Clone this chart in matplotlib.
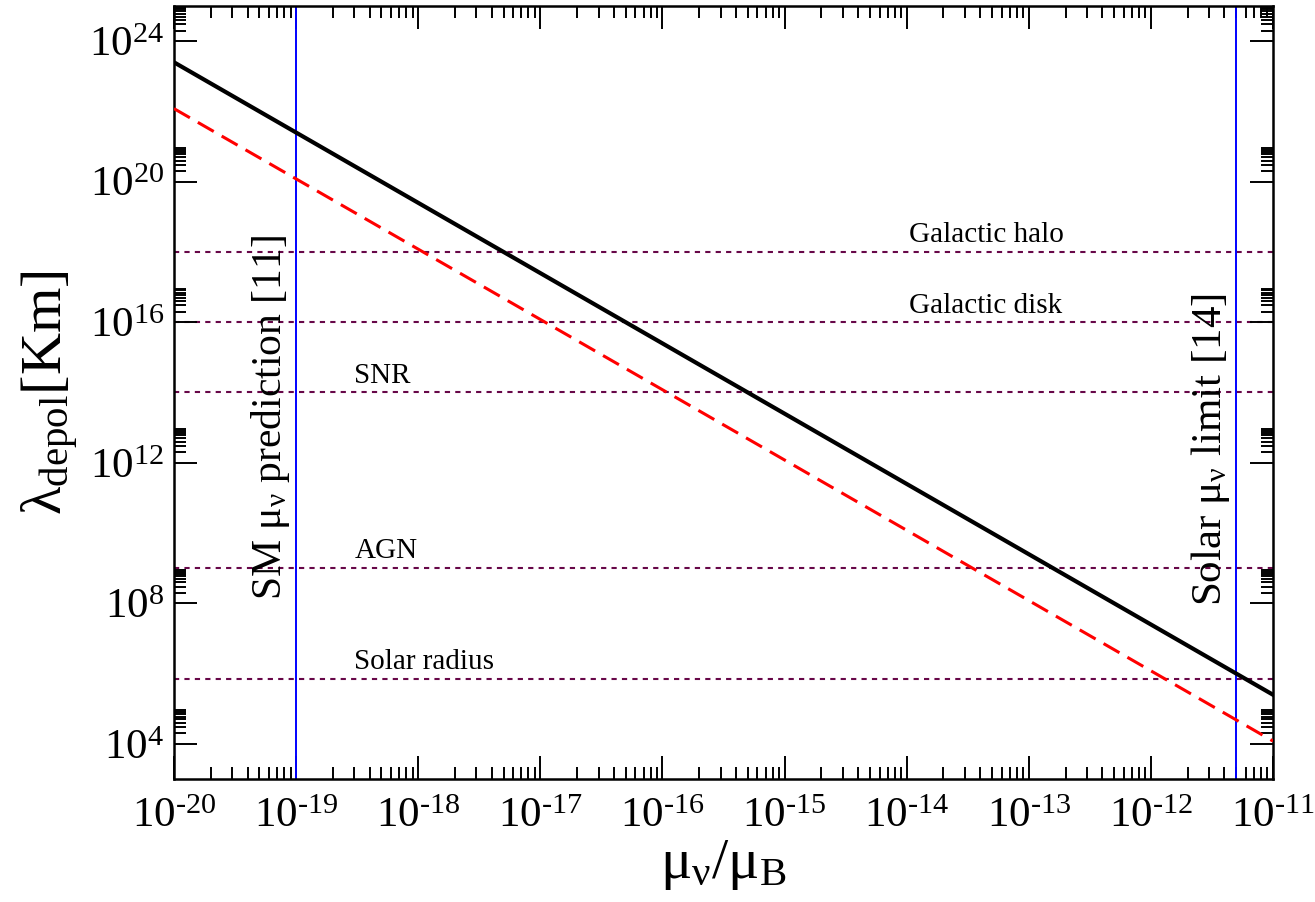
import matplotlib
matplotlib.use("Agg")
import matplotlib.pyplot as plt
from matplotlib.ticker import FixedLocator, NullFormatter, FuncFormatter, LogLocator
import numpy as np

plt.rcParams['font.family'] = 'serif'
plt.rcParams['font.serif'] = ['Liberation Serif', 'DejaVu Serif']
plt.rcParams['mathtext.fontset'] = 'custom'
plt.rcParams['mathtext.rm'] = 'Liberation Serif'
plt.rcParams['mathtext.it'] = 'Liberation Serif:italic'
plt.rcParams['mathtext.bf'] = 'Liberation Serif:bold'

# ---- data ----
mu = [1e-20, 1e-11]
lam_solid = [2.5e23, 2.5e5]
lam_dashed = [1.2e22, 1.2e4]

scale_names = ['Galactic halo', 'Galactic disk', 'SNR', 'AGN', 'Solar radius']
scale_values = [1e18, 1e16, 1e14, 1e9, 7e5]
scale_label_x = [1.05e-14, 1.05e-14, 3.0e-19, 3.0e-19, 3.0e-19]

vline_values = [1e-19, 5e-12]
vline_labels = [r'SM $\mathrm{\mu_{\nu}}$ prediction [11]',
                r'Solar $\mathrm{\mu_{\nu}}$ limit [14]']
vline_label_y = [10**13.29, 10**12.37]

x_major = [10.0**e for e in range(-20, -10)]
y_major = [10.0**e for e in range(4, 25, 4)]
y_minor = [k * 10.0**e for e in range(4, 25, 4) for k in range(2, 10)]

maroon = '#670748'

fig = plt.figure(figsize=(13.15, 9.02), dpi=100)
ax = fig.add_axes([174/1315, 123/902, 1099/1315, 773/902])
ax.set_xscale('log')
ax.set_yscale('log')
ax.set_xlim(1e-20, 1e-11)
ax.set_ylim(1e3, 1e25)

# horizontal scale lines
for v in scale_values:
    ax.axhline(v, color=maroon, lw=1.5, dashes=(2.5, 2.5), zorder=1)
for name, v, xl in zip(scale_names, scale_values, scale_label_x):
    ax.annotate(name, xy=(xl, v), xytext=(0, 7), textcoords='offset points',
                ha='left', va='baseline', fontsize=21, color='black')

# vertical lines
for v in vline_values:
    ax.axvline(v, color='#0000ff', lw=1.4, zorder=2)
for v, lab, yl, fs in zip(vline_values, vline_labels, vline_label_y, [30, 31]):
    ax.annotate(lab, xy=(v, yl), xytext=(-3, 0), textcoords='offset points',
                ha='right', va='center', rotation=90, fontsize=fs, color='black')

# curves
ax.plot(mu, lam_solid, color='black', lw=3.0, zorder=3)
ax.plot(mu, lam_dashed, color='#ff0000', lw=2.2, dashes=(6, 3), zorder=3)

# ticks
def fmt_func(v, p):
    e = int(round(np.log10(v)))
    s = ('\u2010%d' % -e) if e < 0 else '%d' % e
    return r'$\mathrm{10^{%s}}$' % s

ax.xaxis.set_major_locator(FixedLocator(x_major))
ax.xaxis.set_minor_locator(LogLocator(base=10, subs=np.arange(2, 10), numticks=100))
ax.yaxis.set_major_locator(FixedLocator(y_major))
ax.yaxis.set_minor_locator(FixedLocator(y_minor))
fmt = FuncFormatter(fmt_func)
ax.xaxis.set_major_formatter(fmt)
ax.yaxis.set_major_formatter(fmt)
ax.xaxis.set_minor_formatter(NullFormatter())
ax.yaxis.set_minor_formatter(NullFormatter())
ax.tick_params(which='both', direction='in', top=True, right=True, width=1.4, color='black')
ax.tick_params(which='major', length=16.5, labelsize=31)
ax.tick_params(axis='x', which='major', pad=13)
ax.tick_params(axis='y', which='major', pad=7)
ax.tick_params(which='minor', length=8.5)
for s in ax.spines.values():
    s.set_linewidth(1.8)

ax.set_xlabel(r'$\mathrm{\mu_{\nu}/\mu_{B}}$', fontsize=42, labelpad=2)
ax.set_ylabel(r'$\mathrm{\lambda_{depol}[Km]}$', fontsize=42, labelpad=6)

fig.savefig('out.png', dpi=100)
